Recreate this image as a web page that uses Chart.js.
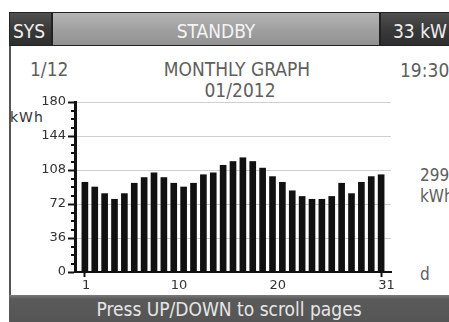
<!DOCTYPE html>
<html>
<head>
<meta charset="utf-8">
<script src="https://cdn.jsdelivr.net/npm/chart.js@4.4.1/dist/chart.umd.min.js"></script>
<style>
  html, body { margin: 0; padding: 0; }
  body {
    width: 449px; height: 322px; overflow: hidden; position: relative;
    background: #fff; font-family: "DejaVu Sans Condensed", "DejaVu Sans", sans-serif;
  }
  .abs { position: absolute; white-space: nowrap; line-height: 19px; font-size: 19px; }
  #header { position: absolute; left: 9px; top: 12px; width: 460px; height: 34px; background: #222; }
  .box { position: absolute; top: 1px; height: 32px; color: #eee; }
  #sys { left: 1px; width: 41px; background: linear-gradient(#505050, #3a3a3a 50%, #2e2e2e); }
  #state { left: 44px; width: 326px; background: linear-gradient(#b4b4b4, #a0a0a0 50%, #929292); color: #f4f4f4; }
  #power { left: 372px; width: 90px; background: linear-gradient(#505050, #3a3a3a 50%, #2e2e2e); }
  #leftline { position: absolute; left: 9px; top: 46px; width: 2px; height: 250px; background: #555; }
  #footer { position: absolute; left: 9px; top: 295px; width: 440px; height: 27px;
    background: linear-gradient(#7a7a7a, #5a5a5a 15%, #555); color: #e6e6e6; }
  .gray { color: #5e5e5e; }
  #chartWrap { position: absolute; left: 0; top: 0; width: 449px; height: 322px; }
</style>
</head>
<body>
<div id="header">
  <div class="box abs" id="sys" style="padding-top:9px;height:23px;"><span style="margin-left:3px">SYS</span></div>
  <div class="box abs" id="state" style="padding-top:9px;height:23px;text-align:center;">STANDBY</div>
  <div class="box abs" id="power" style="padding-top:9px;height:23px;"><span style="margin-left:12px">33 kW</span></div>
</div>
<div id="leftline"></div>

<div class="abs gray" style="left:30px;top:60px;">1/12</div>
<div class="abs gray" style="left:137px;top:60px;width:200px;text-align:center;">MONTHLY GRAPH</div>
<div class="abs gray" style="left:140px;top:81px;width:200px;text-align:center;">01/2012</div>
<div class="abs gray" style="left:400px;top:61px;">19:30</div>
<div class="abs gray" style="left:420px;top:166px;font-size:17px;">2993</div>
<div class="abs gray" style="left:420px;top:187px;font-size:17px;">kWh</div>
<div class="abs gray" style="left:420px;top:265px;font-size:17px;">d</div>
<div class="abs" style="left:10px;top:108px;font-size:14px;color:#333;font-family:'DejaVu Sans';letter-spacing:1px;">kWh</div>

<div id="footer" class="abs"><div style="padding-top:5px;text-align:center;">Press UP/DOWN to scroll pages</div></div>

<div id="chartWrap"><canvas id="chart" width="449" height="322"></canvas></div>

<script>
  // daily energy for January 2012
  const days = [1, 2, 3, 4, 5, 6, 7, 8, 9, 10, 11, 12, 13, 14, 15, 16,
    17, 18, 19, 20, 21, 22, 23, 24, 25, 26, 27, 28, 29, 30, 31];
  const kwh = [95, 90, 83, 77, 83, 94, 100, 105, 100, 94, 90, 94, 103, 105, 113, 117,
    121, 117, 110, 101, 95, 86, 80, 77, 77, 80, 94, 83, 95, 101, 103];
  const xTickDays = [1, 10, 20, 31];
  const yMax = 180;
  const yMajorStep = 36;
  const yMinorStep = 9;

  // short minor ticks between the labelled ones on the y axis
  const minorTicks = {
    id: "minorTicks",
    afterDraw(chart) {
      const y = chart.scales.y;
      const ctx = chart.ctx;
      const x0 = chart.chartArea.left;
      ctx.save();
      ctx.strokeStyle = "#111";
      ctx.lineWidth = 2;
      y.ticks.forEach((t) => {
        if (t.value % yMajorStep === 0) return;
        const py = Math.round(y.getPixelForValue(t.value));
        ctx.beginPath();
        ctx.moveTo(x0 - 4, py);
        ctx.lineTo(x0, py);
        ctx.stroke();
      });
      ctx.restore();
    },
  };

  Chart.defaults.font.family = "'DejaVu Sans', sans-serif";
  Chart.defaults.font.size = 13;
  Chart.defaults.color = "#333";

  new Chart(document.getElementById("chart"), {
    type: "bar",
    data: {
      datasets: [
        {
          data: days.map((d, i) => ({ x: d, y: kwh[i] })),
          backgroundColor: "#111",
          barThickness: 6,
        },
      ],
    },
    options: {
      responsive: false,
      animation: false,
      layout: { padding: { top: 102, right: 58, left: 0, bottom: 0 } },
      plugins: { legend: { display: false }, tooltip: { enabled: false } },
      scales: {
        x: {
          type: "linear",
          min: 0,
          max: 32,
          offset: false,
          afterFit: (s) => { s.height = 50; },
          afterBuildTicks: (s) => { s.ticks = xTickDays.map((v) => ({ value: v })); },
          grid: {
            offset: false,
            drawOnChartArea: false,
            tickLength: 5,
            tickWidth: 2,
            tickColor: (c) => (c.tick && (c.tick.value === 1 || c.tick.value === 31) ? "#111" : "transparent"),
          },
          border: { color: "#111", width: 2 },
          ticks: { align: "start", labelOffset: -3, padding: 1, maxRotation: 0, autoSkip: false },
        },
        y: {
          min: 0,
          max: yMax,
          afterFit: (s) => { s.width = 75; },
          grid: {
            tickLength: 7,
            tickWidth: 2,
            color: (c) => (c.tick && c.tick.value > 0 && c.tick.value % yMajorStep === 0 ? "#cfcfcf" : "transparent"),
            tickColor: (c) => (c.tick && c.tick.value % yMajorStep === 0 ? "#111" : "transparent"),
          },
          border: { color: "#111", width: 3 },
          ticks: {
            stepSize: yMinorStep,
            maxTicksLimit: 40,
            autoSkip: false,
            padding: 2,
            callback: (v) => (v % yMajorStep === 0 ? v : ""),
          },
        },
      },
    },
    plugins: [minorTicks],
  });
</script>
</body>
</html>
